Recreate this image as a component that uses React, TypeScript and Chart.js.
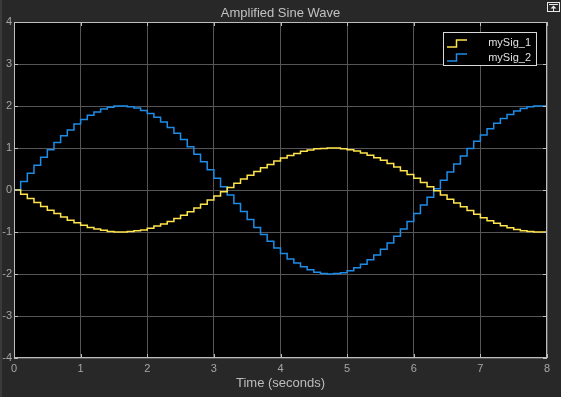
import React, { useEffect, useRef } from "react";
import { Chart, registerables } from "chart.js";

Chart.register(...registerables);

const TITLE = "Amplified Sine Wave";
const X_LABEL = "Time (seconds)";
const SERIES_NAMES = ["mySig_1", "mySig_2"];
const SERIES_COLORS = ["#FFE44C", "#1E8CE6"];

const times = [
  0, 0.1, 0.2, 0.3, 0.4, 0.5, 0.6, 0.7, 0.8, 0.9,
  1.0, 1.1, 1.2, 1.3, 1.4, 1.5, 1.6, 1.7, 1.8, 1.9,
  2.0, 2.1, 2.2, 2.3, 2.4, 2.5, 2.6, 2.7, 2.8, 2.9,
  3.0, 3.1, 3.2, 3.3, 3.4, 3.5, 3.6, 3.7, 3.8, 3.9,
  4.0, 4.1, 4.2, 4.3, 4.4, 4.5, 4.6, 4.7, 4.8, 4.9,
  5.0, 5.1, 5.2, 5.3, 5.4, 5.5, 5.6, 5.7, 5.8, 5.9,
  6.0, 6.1, 6.2, 6.3, 6.4, 6.5, 6.6, 6.7, 6.8, 6.9,
  7.0, 7.1, 7.2, 7.3, 7.4, 7.5, 7.6, 7.7, 7.8, 7.9,
  8.0,
];

const mySig1 = [
  0, -0.10, -0.20, -0.30, -0.39, -0.48, -0.56, -0.64, -0.72, -0.78,
  -0.84, -0.89, -0.93, -0.96, -0.99, -1.00, -1.00, -0.99, -0.97, -0.95,
  -0.91, -0.86, -0.81, -0.75, -0.68, -0.60, -0.52, -0.43, -0.34, -0.24,
  -0.14, -0.04, 0.06, 0.16, 0.26, 0.35, 0.44, 0.53, 0.61, 0.69,
  0.76, 0.82, 0.87, 0.92, 0.95, 0.98, 0.99, 1.00, 1.00, 0.98,
  0.96, 0.93, 0.88, 0.83, 0.77, 0.71, 0.63, 0.55, 0.46, 0.37,
  0.28, 0.18, 0.08, -0.02, -0.12, -0.22, -0.31, -0.40, -0.49, -0.58,
  -0.66, -0.73, -0.79, -0.85, -0.90, -0.94, -0.97, -0.99, -1.00, -1.00,
  -0.99,
];

const mySig2 = [
  0, 0.20, 0.40, 0.59, 0.78, 0.96, 1.13, 1.29, 1.43, 1.57,
  1.68, 1.78, 1.86, 1.93, 1.97, 2.00, 2.00, 1.98, 1.95, 1.89,
  1.82, 1.73, 1.62, 1.49, 1.35, 1.20, 1.03, 0.85, 0.67, 0.48,
  0.28, 0.08, -0.12, -0.32, -0.51, -0.70, -0.89, -1.06, -1.22, -1.38,
  -1.51, -1.64, -1.74, -1.83, -1.90, -1.96, -1.99, -2.00, -1.99, -1.97,
  -1.92, -1.85, -1.77, -1.66, -1.55, -1.41, -1.26, -1.10, -0.93, -0.75,
  -0.56, -0.36, -0.17, 0.03, 0.23, 0.43, 0.62, 0.81, 0.99, 1.16,
  1.31, 1.46, 1.59, 1.70, 1.80, 1.88, 1.94, 1.98, 2.00, 2.00,
  1.98,
];

const xTicks = [0, 1, 2, 3, 4, 5, 6, 7, 8];
const yTicks = [-4, -3, -2, -1, 0, 1, 2, 3, 4];

const FONT = "'Liberation Sans', Arial, sans-serif";
const BG = "#282828";
const AXIS_COLOR = "#bdbdbd";
const TICK_TEXT = "#a6a6a6";
const GRID = "#565656";

const scopePlugin = {
  id: "scopeDecor",
  beforeDraw(chart: any) {
    const { ctx, chartArea } = chart;
    ctx.save();
    ctx.fillStyle = BG;
    ctx.fillRect(0, 0, chart.width, chart.height);
    ctx.fillStyle = "#3a3a3a";
    ctx.fillRect(0, 0, 2, chart.height);
    ctx.fillStyle = "#000000";
    ctx.fillRect(chartArea.left, chartArea.top, chartArea.right - chartArea.left, chartArea.bottom - chartArea.top);
    ctx.restore();
  },
  afterDraw(chart: any) {
    const { ctx, chartArea, scales } = chart;
    const { left, right, top, bottom } = chartArea;
    ctx.save();
    // inward tick marks
    ctx.strokeStyle = AXIS_COLOR;
    ctx.lineWidth = 1;
    ctx.beginPath();
    xTicks.forEach((v) => {
      const x = Math.round(scales.x.getPixelForValue(v)) + 0.5;
      ctx.moveTo(x, top);
      ctx.lineTo(x, top + 4);
      ctx.moveTo(x, bottom);
      ctx.lineTo(x, bottom - 4);
    });
    yTicks.forEach((v) => {
      const y = Math.round(scales.y.getPixelForValue(v)) + 0.5;
      ctx.moveTo(left, y);
      ctx.lineTo(left + 4, y);
      ctx.moveTo(right, y);
      ctx.lineTo(right - 4, y);
    });
    ctx.stroke();
    // plot border
    ctx.strokeRect(Math.round(left) + 0.5, Math.round(top) + 0.5, Math.round(right - left) - 1, Math.round(bottom - top) - 1);

    // title
    ctx.fillStyle = "#c2c2c2";
    ctx.font = `13px ${FONT}`;
    ctx.textAlign = "center";
    ctx.textBaseline = "middle";
    ctx.fillText(TITLE, (left + right) / 2, 13);

    // legend
    const lx = 443, ly = 32, lw = 93, lh = 33;
    ctx.fillStyle = "#000000";
    ctx.fillRect(lx, ly, lw, lh);
    ctx.strokeStyle = "#d9d9d9";
    ctx.strokeRect(lx + 0.5, ly + 0.5, lw, lh);
    const rows = [
      { low: 47, high: 40, text: 43 },
      { low: 61, high: 54, text: 58 },
    ];
    rows.forEach((r, i) => {
      ctx.strokeStyle = SERIES_COLORS[i];
      ctx.lineWidth = 1.5;
      ctx.beginPath();
      ctx.moveTo(447, r.low);
      ctx.lineTo(456.5, r.low);
      ctx.lineTo(456.5, r.high);
      ctx.lineTo(467, r.high);
      ctx.stroke();
      ctx.fillStyle = "#e0e0e0";
      ctx.font = `11px ${FONT}`;
      ctx.textAlign = "right";
      ctx.textBaseline = "middle";
      ctx.fillText(SERIES_NAMES[i], 531, r.text);
    });

    // top-right undock icon
    ctx.strokeStyle = "#e8e8e8";
    ctx.fillStyle = "#e8e8e8";
    ctx.lineWidth = 1;
    ctx.strokeRect(547.5, 2.5, 12, 9);
    ctx.beginPath();
    ctx.moveTo(549, 4.5);
    ctx.lineTo(558, 4.5);
    ctx.stroke();
    ctx.beginPath();
    ctx.moveTo(553.5, 5.5);
    ctx.lineTo(550.5, 8.5);
    ctx.lineTo(556.5, 8.5);
    ctx.closePath();
    ctx.fill();
    ctx.fillRect(553, 8, 1, 3);
    ctx.restore();
  },
};

export default function App() {
  const canvasRef = useRef<HTMLCanvasElement | null>(null);

  useEffect(() => {
    const canvas = canvasRef.current;
    if (!canvas) return;
    const datasets = [mySig1, mySig2].map((vals, i) => ({
      label: SERIES_NAMES[i],
      data: times.map((t, k) => ({ x: t, y: vals[k] })),
      borderColor: SERIES_COLORS[i],
      backgroundColor: SERIES_COLORS[i],
      borderWidth: 1.5,
      pointRadius: 0,
      stepped: "before" as const,
      fill: false,
    }));
    const chart = new Chart(canvas, {
      type: "line",
      data: { datasets },
      plugins: [scopePlugin],
      options: {
        responsive: false,
        animation: false,
        maintainAspectRatio: false,
        layout: { padding: { top: 22, right: 14, left: 0, bottom: 0 } },
        plugins: {
          legend: { display: false },
          title: { display: false },
          tooltip: { enabled: false },
        },
        scales: {
          x: {
            type: "linear",
            min: 0,
            max: 8,
            afterFit: (s: any) => {
              s.height = 39;
            },
            afterBuildTicks: (s: any) => {
              s.ticks = xTicks.map((v) => ({ value: v }));
            },
            ticks: {
              color: TICK_TEXT,
              font: { family: FONT, size: 11 },
              padding: 4,
              maxRotation: 0,
              autoSkip: false,
            },
            grid: { color: GRID, drawTicks: false, lineWidth: 1 },
            border: { display: false },
            title: {
              display: true,
              text: X_LABEL,
              color: "#bcbcbc",
              font: { family: FONT, size: 13 },
              padding: { top: 0, bottom: 6 },
            },
          },
          y: {
            type: "linear",
            min: -4,
            max: 4,
            afterFit: (s: any) => {
              s.width = 14;
            },
            afterBuildTicks: (s: any) => {
              s.ticks = yTicks.map((v) => ({ value: v }));
            },
            ticks: {
              color: TICK_TEXT,
              font: { family: FONT, size: 11 },
              padding: 2,
              autoSkip: false,
            },
            grid: { color: GRID, drawTicks: false, lineWidth: 1 },
            border: { display: false },
          },
        },
      },
    });
    return () => chart.destroy();
  }, []);

  return (
    <div style={{ position: "fixed", left: 0, top: 0, width: 561, height: 397, background: BG }}>
      <canvas ref={canvasRef} width={561} height={397} style={{ width: 561, height: 397, display: "block" }} />
    </div>
  );
}
